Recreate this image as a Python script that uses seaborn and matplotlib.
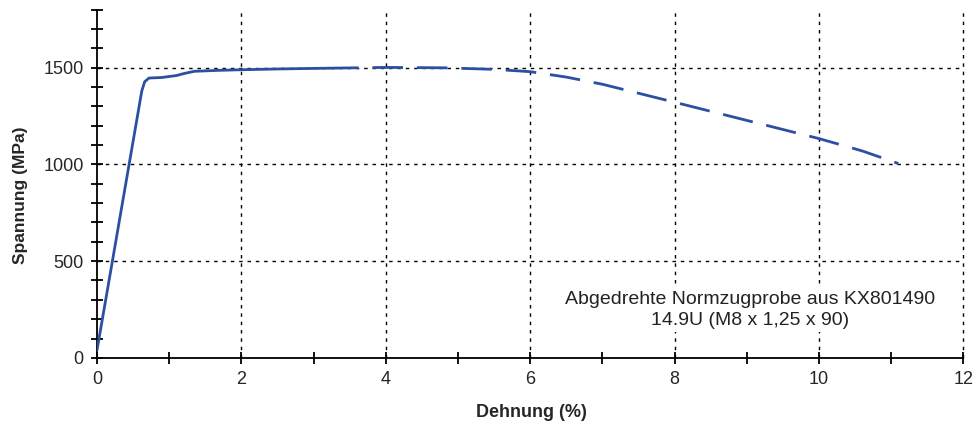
import seaborn as sns
import matplotlib.pyplot as plt
import pandas as pd
from matplotlib.ticker import MultipleLocator

# measured curve (solid part, then dashed part)
dehnung_solid = [0.0, 0.62, 0.66, 0.72, 0.9, 1.1, 1.2, 1.35, 1.7, 2.0, 2.5, 3.2]
spannung_solid = [40, 1380, 1428, 1447, 1450, 1460, 1470, 1482, 1487, 1490, 1494, 1498]

dehnung_dash = [3.2, 4.0, 4.8, 5.5, 6.0, 6.5, 7.0, 8.0, 9.0, 10.0, 10.6, 11.1]
spannung_dash = [1498, 1502, 1500, 1492, 1480, 1452, 1415, 1322, 1228, 1134, 1070, 1005]

x_ticks = [0, 2, 4, 6, 8, 10, 12]
y_ticks = [0, 500, 1000, 1500]
info_lines = ["Abgedrehte Normzugprobe aus KX801490", "14.9U (M8 x 1,25 x 90)"]

sns.set_style("white")
plt.rcParams['font.family'] = ['Liberation Sans', 'DejaVu Sans']

farbe = "#2b4fa3"
gitter = dict(color="black", linestyle=(0, (2.5, 3.5)), lw=1)

fig = plt.figure(figsize=(9.8, 4.26), dpi=100)
ax = fig.add_axes([0.099, 0.160, 0.884, 0.817])

df1 = pd.DataFrame({"x": dehnung_solid, "y": spannung_solid})
df2 = pd.DataFrame({"x": dehnung_dash, "y": spannung_dash})
sns.lineplot(data=df1, x="x", y="y", ax=ax, color=farbe, lw=2, sort=False, zorder=3)
sns.lineplot(data=df2, x="x", y="y", ax=ax, color=farbe, lw=2, sort=False, zorder=3,
             dashes=False, linestyle=(0, (11, 5)))

ax.set_xlim(0, 12)
ax.set_ylim(0, 1800)
ax.set_xticks(x_ticks)
ax.set_yticks(y_ticks)
ax.xaxis.set_minor_locator(MultipleLocator(1))
ax.yaxis.set_minor_locator(MultipleLocator(100))
ax.tick_params(axis="both", which="both", direction="inout", length=9, width=1.3,
               color="black", labelsize=13, bottom=True, left=True)
ax.tick_params(axis="x", pad=5)
ax.tick_params(axis="y", pad=5)

for s in ["top", "right"]:
    ax.spines[s].set_visible(False)
for s in ["left", "bottom"]:
    ax.spines[s].set_color("black")
    ax.spines[s].set_linewidth(1.3)

ax.yaxis.grid(True, which="major", **gitter)
for xv in x_ticks[1:]:
    ax.axvline(xv, zorder=1, clip_on=False, **gitter)
ax.set_axisbelow(True)

ax.set_xlabel("Dehnung (%)", fontsize=13, fontweight="bold")
ax.set_ylabel("Spannung (MPa)", fontsize=12.5, fontweight="bold")
ax.xaxis.label.set_va("center")
ax.xaxis.set_label_coords(0.501, -0.158)
ax.yaxis.label.set_va("center")
ax.yaxis.label.set_ha("center")
ax.yaxis.set_label_coords(-0.088, 0.466)

ax.text(9.04, 248, "\n".join(info_lines), ha="center", va="center", fontsize=14,
        linespacing=1.35, color="#222222",
        bbox=dict(facecolor="white", edgecolor="none", pad=2), zorder=4)

fig.savefig("out.png", dpi=100)
